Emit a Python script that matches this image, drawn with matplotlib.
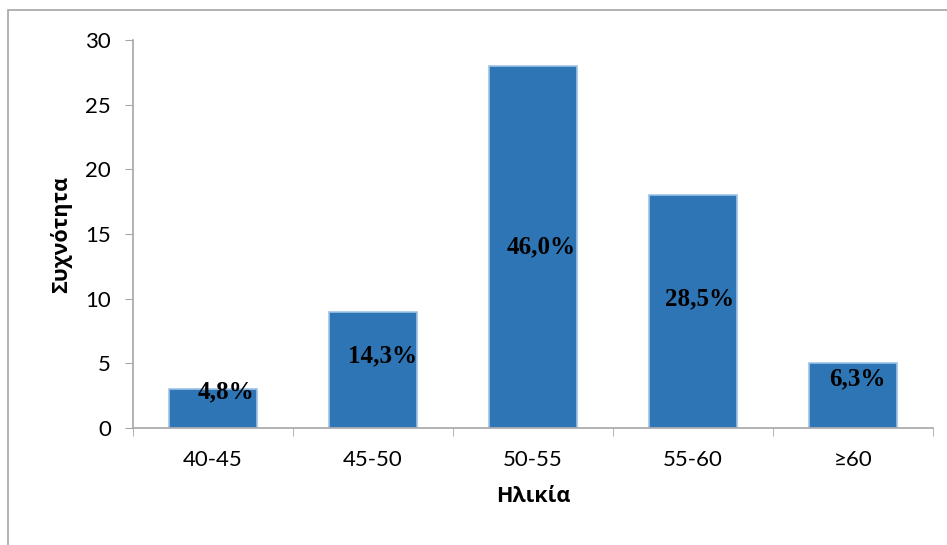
import matplotlib.pyplot as plt
from matplotlib.patches import Rectangle

# data
categories = ['40-45', '45-50', '50-55', '55-60', '≥60']
counts = [3, 9, 28, 18, 5]
percents = ['4,8%', '14,3%', '46,0%', '28,5%', '6,3%']
# where the percent labels sit (data coords)
label_x = [0.08, 0.06, 0.05, 0.04, 0.03]
label_y = [2.8, 5.6, 14.0, 10.0, 3.8]

plt.rcParams['font.family'] = ['Lato', 'DejaVu Sans']

fig = plt.figure(figsize=(9.47, 5.45), dpi=100)
ax = fig.add_axes([133 / 947, 1 - 428 / 545, 800 / 947, 388 / 545])

x = list(range(len(categories)))
ax.bar(x, counts, width=0.55, color='#2E75B6', edgecolor='#9DC3E6', linewidth=1.2)

for i in x:
    ax.text(i + label_x[i], label_y[i], percents[i], ha='center', va='center',
            family='Liberation Serif', fontweight='bold', fontsize=18, color='black')

ax.set_xlim(-0.5, len(categories) - 0.5)
ax.set_ylim(0, 30)
ax.set_yticks(range(0, 31, 5))
ax.set_xticks(x)
ax.set_xticklabels(categories)
ax.set_xticks([i - 0.5 for i in range(len(categories) + 1)], minor=True)
ax.tick_params(axis='x', which='major', length=0, pad=16, labelsize=16)
ax.tick_params(axis='x', which='minor', length=6, color='#A6A6A6', direction='out')
ax.tick_params(axis='y', length=6, color='#A6A6A6', labelsize=16, pad=10)

for s in ['top', 'right']:
    ax.spines[s].set_visible(False)
for s in ['left', 'bottom']:
    ax.spines[s].set_color('#A6A6A6')
    ax.spines[s].set_linewidth(1.2)

ax.set_xlabel('Ηλικία', fontsize=15.5, family='Open Sans', fontweight='bold', labelpad=11)
ax.set_ylabel('Συχνότητα', fontsize=15.5, family='Open Sans', fontweight='bold', labelpad=9)

# outer chart border
fig.patches.append(Rectangle((8 / 947, -0.1), 1.2, 1 - 10 / 545 + 0.1,
                             transform=fig.transFigure, fill=False,
                             edgecolor='#A6A6A6', linewidth=1.2))

fig.savefig('out.png', dpi=100)
